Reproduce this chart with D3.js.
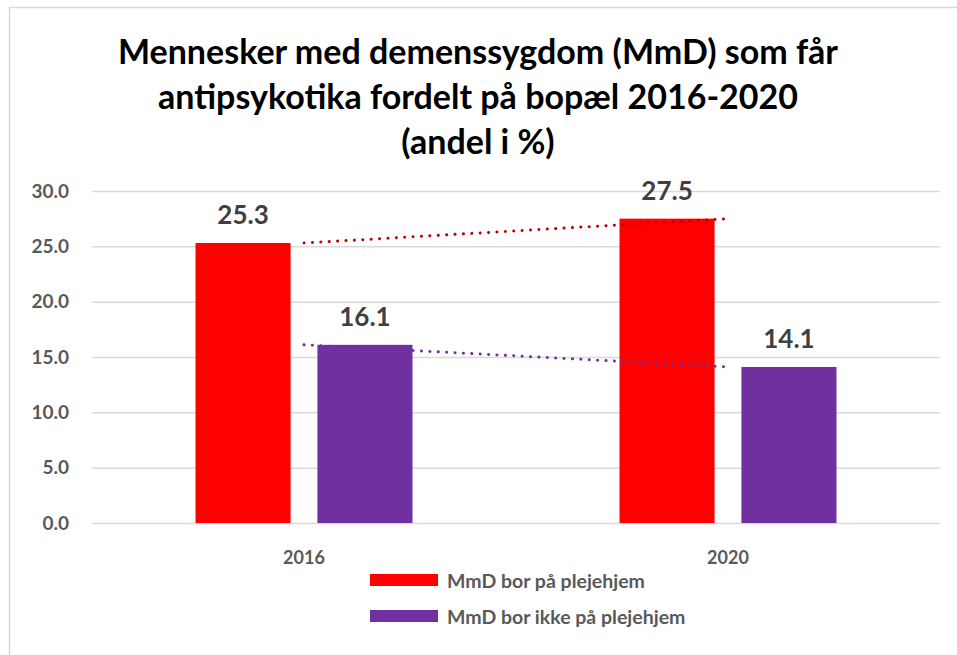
<!DOCTYPE html>
<html>
<head>
<meta charset="utf-8">
<script src="https://cdn.jsdelivr.net/npm/d3@7"></script>
<style>
  body { margin: 0; background: #fff; }
  text { font-family: Lato, 'Open Sans', sans-serif; font-weight: bold; }
</style>
</head>
<body>
<div id="chart"></div>
<script>
const years = ['2016', '2020']
const seriesNames = ['MmD bor på plejehjem', 'MmD bor ikke på plejehjem']
const plejehjem = [25.3, 27.5]
const ikkePlejehjem = [16.1, 14.1]
const yTicks = [0, 5, 10, 15, 20, 25, 30]
const titleLines = ['Mennesker med demenssygdom (MmD) som får', 'antipsykotika fordelt på bopæl 2016-2020', '(andel i %)']

const colors = ['#ff0000', '#7030a0']
const trendColors = ['#c00000', '#7030a0']

const margin = { top: 191, right: 17, bottom: 132, left: 92 }
const W = 957
const H = 655
const width = W - margin.left - margin.right
const height = H - margin.top - margin.bottom

const svgRoot = d3.select('#chart')
  .append('svg')
  .attr('width', W)
  .attr('height', H)

// outer frame (only top and left edges are visible)
svgRoot.append('line')
  .attr('x1', 9).attr('x2', W).attr('y1', 7.5).attr('y2', 7.5)
  .attr('stroke', '#d9d9d9').attr('stroke-width', 1.5)
svgRoot.append('line')
  .attr('x1', 9.5).attr('x2', 9.5).attr('y1', 7).attr('y2', H)
  .attr('stroke', '#d9d9d9').attr('stroke-width', 1.5)

svgRoot.append('g')
  .selectAll('text')
  .data(titleLines)
  .enter()
  .append('text')
  .attr('x', 478)
  .attr('y', (d, i) => 64 + i * 45)
  .attr('text-anchor', 'middle')
  .attr('font-size', 34)
  .attr('font-weight', 900)
  .attr('fill', '#000')
  .text(d => d)

const svg = svgRoot.append('g')
  .attr('transform', 'translate(' + margin.left + ',' + margin.top + ')')

const xPositionScale = d3.scaleBand()
  .domain(years)
  .range([0, width])

const groupScale = d3.scaleBand()
  .domain([0, 1])
  .range([0, 217])
  .paddingInner(0.22)

const yPositionScale = d3.scaleLinear()
  .domain([0, 30])
  .range([height, 0])

const yAxis = d3.axisLeft(yPositionScale)
  .tickValues(yTicks)
  .tickSize(-width)
  .tickPadding(23)
  .tickFormat(d3.format('.1f'))

svg.append('g')
  .attr('class', 'axis y-axis')
  .call(yAxis)
svg.select('.y-axis .domain').remove()
svg.selectAll('.y-axis line').attr('stroke', '#d9d9d9').attr('stroke-width', 1.5)
svg.selectAll('.y-axis text')
  .attr('font-size', 19)
  .attr('fill', '#595959')
  .attr('font-family', 'Lato, sans-serif')
  .attr('font-weight', 'bold')

const series = [plejehjem, ikkePlejehjem]
const groupOffset = (xPositionScale.bandwidth() - 217) / 2

series.forEach((values, s) => {
  const g = svg.append('g')
  g.selectAll('rect')
    .data(values)
    .enter()
    .append('rect')
    .attr('x', (d, i) => xPositionScale(years[i]) + groupOffset + groupScale(s))
    .attr('width', groupScale.bandwidth())
    .attr('y', d => yPositionScale(d))
    .attr('height', d => height - yPositionScale(d))
    .attr('fill', colors[s])

  g.selectAll('text')
    .data(values)
    .enter()
    .append('text')
    .attr('x', (d, i) => xPositionScale(years[i]) + groupOffset + groupScale(s) + groupScale.bandwidth() / 2)
    .attr('y', d => yPositionScale(d) - 19)
    .attr('text-anchor', 'middle')
    .attr('font-size', 26)
    .attr('fill', '#404040')
    .text(d => d.toFixed(1))
})

// linear trend lines between category centres
series.forEach((values, s) => {
  const line = d3.line()
    .x((d, i) => xPositionScale(years[i]) + xPositionScale.bandwidth() / 2)
    .y(d => yPositionScale(d))
  svg.append('path')
    .datum(values)
    .attr('d', line)
    .attr('fill', 'none')
    .attr('stroke', trendColors[s])
    .attr('stroke-width', 3)
    .attr('stroke-linecap', 'round')
    .attr('stroke-dasharray', '0.1 8.3')
})

svg.append('g')
  .selectAll('text')
  .data(years)
  .enter()
  .append('text')
  .attr('x', d => xPositionScale(d) + xPositionScale.bandwidth() / 2)
  .attr('y', height + 41)
  .attr('text-anchor', 'middle')
  .attr('font-size', 18)
  .attr('fill', '#595959')
  .text(d => d)

const legend = svgRoot.append('g')
  .selectAll('g')
  .data(seriesNames)
  .enter()
  .append('g')
  .attr('transform', (d, i) => 'translate(370,' + (574 + i * 36) + ')')

legend.append('rect')
  .attr('width', 68)
  .attr('height', 12)
  .attr('fill', (d, i) => colors[i])

legend.append('text')
  .attr('x', 77)
  .attr('y', 14)
  .attr('font-size', 19.5)
  .attr('fill', '#595959')
  .text(d => d)
</script>
</body>
</html>
